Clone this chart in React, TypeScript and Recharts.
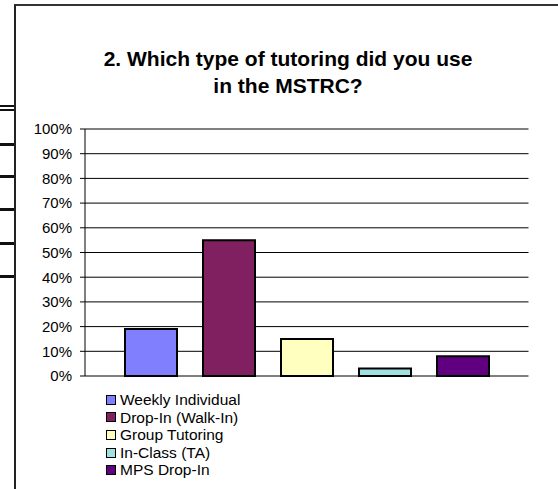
import { BarChart, Bar, XAxis, YAxis, CartesianGrid, Legend } from 'recharts';

const seriesNames = ['Weekly Individual', 'Drop-In (Walk-In)', 'Group Tutoring', 'In-Class (TA)', 'MPS Drop-In'];
const seriesKeys = ['weekly', 'dropIn', 'group', 'inClass', 'mps'];
const seriesValues = [19, 55, 15, 3, 8];
const seriesColors = ['#8080FF', '#802060', '#FFFFC0', '#A0E0E0', '#600080'];
const yTicks = [0, 10, 20, 30, 40, 50, 60, 70, 80, 90, 100];

const row: Record<string, number | string> = { name: 'Q2' };
seriesKeys.forEach((k, i) => {
  row[k] = seriesValues[i];
});
const data = [row];

const font = '"Liberation Sans", Arial, sans-serif';

// bits of the surrounding page that show at the left edge
const stubs = [
  { top: 105, h: 2 },
  { top: 109, h: 2 },
  { top: 143, h: 2.5 },
  { top: 175, h: 2.5 },
  { top: 208, h: 2.5 },
  { top: 242, h: 2.5 },
  { top: 275, h: 2.5 },
];

const renderLegend = (props: any) => {
  const items = props.payload || [];
  return (
    <div style={{ fontFamily: font, fontSize: 15.5, lineHeight: '17.6px', color: '#000' }}>
      {items.map((it: any) => (
        <div key={it.value} style={{ display: 'flex', alignItems: 'center' }}>
          <span
            style={{
              display: 'inline-block',
              width: 8,
              height: 8,
              border: '1.5px solid #000',
              background: it.color,
              marginRight: 4,
            }}
          />
          <span>{it.value}</span>
        </div>
      ))}
    </div>
  );
};

const App = () => {
  return (
    <div style={{ position: 'absolute', left: 0, top: 0, width: 558, height: 489, background: '#fff', overflow: 'hidden' }}>
      <div
        style={{
          position: 'absolute',
          left: 14,
          top: 4,
          right: -10,
          bottom: -10,
          borderLeft: '2px solid #222',
          borderTop: '2px solid #333',
        }}
      />
      {stubs.map((s, i) => (
        <div key={i} style={{ position: 'absolute', left: 0, width: 14, top: s.top, height: s.h, background: '#111' }} />
      ))}
      <div
        style={{
          position: 'absolute',
          left: 88,
          top: 45,
          width: 400,
          textAlign: 'center',
          fontFamily: font,
          fontWeight: 'bold',
          fontSize: 21,
          lineHeight: '27px',
          color: '#000',
        }}
      >
        2. Which type of tutoring did you use
        <br />
        in the MSTRC?
      </div>
      <BarChart
        width={558}
        height={489}
        data={data}
        margin={{ top: 129, right: 29.5, bottom: 113, left: 0 }}
        barSize={52}
        barGap={26}
      >
        <CartesianGrid vertical={false} stroke="#000" strokeWidth={1} />
        <XAxis dataKey="name" height={0} tick={false} tickLine={false} axisLine={{ stroke: '#555' }} />
        <YAxis
          domain={[0, 100]}
          ticks={yTicks}
          interval={0}
          width={85}
          tickSize={5}
          tickMargin={8}
          tickFormatter={(v: number) => `${v}%`}
          tick={{ fill: '#000', fontSize: 15, fontFamily: font }}
          axisLine={{ stroke: '#000' }}
          tickLine={{ stroke: '#000' }}
        />
        <YAxis
          yAxisId="r"
          orientation="right"
          width={0}
          tick={false}
          tickLine={false}
          axisLine={{ stroke: '#555' }}
        />
        {seriesKeys.map((k, i) => (
          <Bar
            key={k}
            dataKey={k}
            name={seriesNames[i]}
            fill={seriesColors[i]}
            stroke="#000"
            strokeWidth={2}
            isAnimationActive={false}
          />
        ))}
        <Legend
          layout="vertical"
          align="center"
          verticalAlign="middle"
          itemSorter={(item: any) => seriesKeys.indexOf(item.dataKey)}
          content={renderLegend}
          wrapperStyle={{ left: 106, top: 391, width: 'auto', bottom: 'auto' }}
        />
      </BarChart>
    </div>
  );
};

export default App;
